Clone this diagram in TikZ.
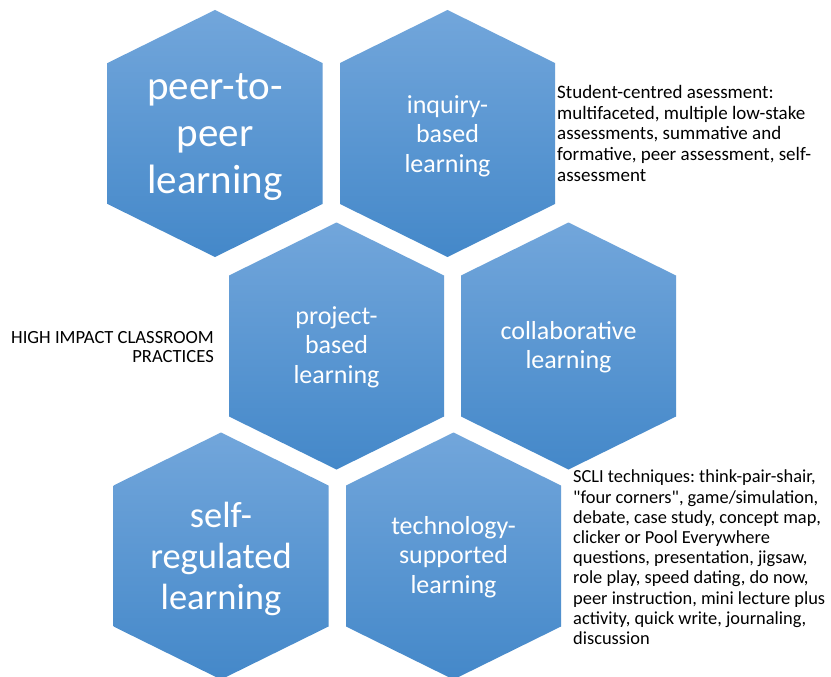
\documentclass[tikz,border=0pt]{standalone}
\usepackage{fontspec}
\setmainfont{Carlito}
\newfontfamily\notefont{Carlito}
\definecolor{hextop}{RGB}{114,166,219}
\definecolor{hexmid}{RGB}{91,155,213}
\definecolor{hexbot}{RGB}{68,136,201}
\newcommand\hexcell[3]{%
  \shade[hexfill] (#1,#2) ++(0,-123.5) -- ++(107.5,53) -- ++(0,141) -- ++(-107.5,53) -- ++(-107.5,-53) -- ++(0,-141) -- cycle;
  \coordinate (#3) at (#1,#2);}
\frenchspacing
\begin{document}
\begin{tikzpicture}[x=1pt,y=-1pt,
  hexfill/.style={top color=hextop, middle color=hexmid, bottom color=hexbot, draw=none},
  hexlabel/.style={text=white, align=center, inner sep=0pt},
  bigtxt/.style={font=\fontsize{41}{47}\selectfont},
  midtxt/.style={font=\fontsize{36.5}{41}\selectfont},
  smalltxt/.style={font=\fontsize{26}{29.5}\selectfont},
  note/.style={align=left, inner sep=0pt, anchor=north west, text=black}]
\useasboundingbox (0,0) rectangle (831,677);
\clip (0,0) rectangle (831,677);
\fill[white] (0,0) rectangle (831,677);
\hexcell{215}{133.5}{h1}
\hexcell{447.5}{133.5}{h2}
\hexcell{336.5}{346}{h3}
\hexcell{568.5}{346}{h4}
\hexcell{221}{556}{h5}
\hexcell{453.5}{556}{h6}
\node[hexlabel, bigtxt] (peer) at (215,137) {peer-to-\\peer\\learning};
\node[hexlabel, smalltxt] (inquiry) at (447.5,136) {inquiry-\\based\\learning};
\node[hexlabel, smalltxt] (project) at (336.5,347) {project-\\based\\learning};
\node[hexlabel, smalltxt] (collab) at (568.5,347) {collaborative\\learning};
\node[hexlabel, midtxt] (self) at (221,559) {self-\\regulated\\learning};
\node[hexlabel, smalltxt] (tech) at (453.5,557) {technology-\\supported\\learning};
\node[note, font=\notefont\fontsize{19}{20.8}\selectfont] (assess) at (557,85) {Student-centred asessment:\\multifaceted, multiple low-stake\\assessments, summative and\\formative, peer assessment, self-\\assessment};
\node[note, font=\notefont\fontsize{18.4}{20.2}\selectfont] (scli) at (573,470) {SCLI techniques: think-pair-shair,\\"four corners", game/simulation,\\debate, case study, concept map,\\clicker or Pool Everywhere\\questions, presentation, jigsaw,\\role play, speed dating, do now,\\peer instruction, mini lecture plus\\activity, quick write, journaling,\\discussion};
\node[inner sep=0pt, anchor=north east, align=right, font=\notefont\fontsize{18.6}{19.5}\selectfont] (hicp) at (214,331) {HIGH IMPACT CLASSROOM\\PRACTICES};
\end{tikzpicture}
\end{document}
